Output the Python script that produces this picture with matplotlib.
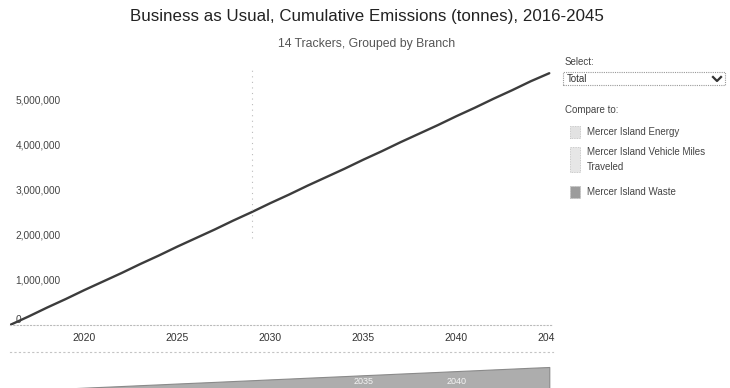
import matplotlib
matplotlib.use('Agg')
import matplotlib.pyplot as plt
import numpy as np
from matplotlib.patches import Rectangle
from matplotlib.lines import Line2D

plt.rcParams['font.family'] = ['Liberation Sans', 'DejaVu Sans']

# Daten
years = list(range(2016, 2046))
cumulative = [0, 0.19e6, 0.39e6, 0.58e6, 0.78e6, 0.97e6, 1.16e6, 1.36e6, 1.55e6, 1.75e6,
              1.94e6, 2.13e6, 2.33e6, 2.52e6, 2.72e6, 2.91e6, 3.11e6, 3.30e6, 3.49e6, 3.69e6,
              3.88e6, 4.08e6, 4.27e6, 4.46e6, 4.66e6, 4.85e6, 5.05e6, 5.24e6, 5.44e6, 5.62e6]
x_ticks = [2020, 2025, 2030, 2035, 2040, 2045]
y_ticks = [0, 1e6, 2e6, 3e6, 4e6, 5e6]
brush_labels = [2035, 2040]
hover_year = 2029
title = 'Business as Usual, Cumulative Emissions (tonnes), 2016-2045'
subtitle = '14 Trackers, Grouped by Branch'
select_value = 'Total'
compare_items = ['Mercer Island Energy', 'Mercer Island Vehicle Miles\nTraveled', 'Mercer Island Waste']

W, H = 730, 388


def fx(px):
    return px / W


def fy(py):
    return 1 - py / H


fig = plt.figure(figsize=(W / 100, H / 100), dpi=100)

# Hauptdiagramm
ax = fig.add_axes([fx(10), fy(325), (553 - 10) / W, (325 - 60) / H])
ax.plot(years, cumulative, color='#3c3c3c', lw=1.7, solid_capstyle='round')
ax.axvline(hover_year, ymin=0.33, ymax=0.975, color='#bbbbbb', lw=0.8, ls=(0, (1, 4)))
ax.set_xlim(2016, 2045.2)
ax.set_ylim(0, 5.915e6)
for s in ['top', 'left', 'right']:
    ax.spines[s].set_visible(False)
ax.spines['bottom'].set_linestyle((0, (1, 2)))
ax.spines['bottom'].set_color('#bbbbbb')
ax.spines['bottom'].set_linewidth(0.8)
ax.set_xticks(x_ticks)
ax.set_yticks(y_ticks)
ax.set_yticklabels(['{:,.0f}'.format(v) for v in y_ticks])
ax.tick_params(axis='x', length=0, pad=6, labelsize=7.5, labelcolor='#333333')
ax.tick_params(axis='y', length=0, pad=-4, labelsize=7.3, labelcolor='#444444')
for lab in ax.get_yticklabels():
    lab.set_horizontalalignment('left')
    lab.set_verticalalignment('bottom' if lab.get_text() == '0' else 'center')
clip = Rectangle((0, 0), fx(555), 1, transform=fig.transFigure)
for lab in ax.get_xticklabels():
    lab.set_clip_path(clip)

# Uebersicht unten
ax2 = fig.add_axes([fx(10), fy(391), (553 - 10) / W, 39 / H])
ax2.fill_between(years, cumulative, color='#adadad', lw=0.8, edgecolor='#8a8a8a')
ax2.set_xlim(2016, 2045.2)
ax2.set_ylim(0, 9.13e6)
for s in ['bottom', 'left', 'right']:
    ax2.spines[s].set_visible(False)
ax2.spines['top'].set_linestyle((0, (1, 3)))
ax2.spines['top'].set_color('#c4c4c4')
ax2.spines['top'].set_linewidth(0.8)
ax2.set_xticks([])
ax2.set_yticks([])
for yr in brush_labels:
    ax2.text(yr, 0.25, str(yr), transform=ax2.get_xaxis_transform(), ha='center', va='center',
             fontsize=6.5, color='#f4f4f4')

# Titel
fig.text(fx(367), fy(17), title, ha='center', va='center', fontsize=12.2, color='#222222')
fig.text(fx(367), fy(44), subtitle, ha='center', va='center', fontsize=8.8, color='#555555')

# Rechte Leiste
fig.text(fx(565), fy(62), 'Select:', ha='left', va='center', fontsize=7, color='#444444')
fig.add_artist(Rectangle((fx(563), fy(85)), (725 - 563) / W, 13 / H, transform=fig.transFigure,
                         facecolor='white', edgecolor='#999999', lw=0.8, ls=(0, (1, 1))))
fig.text(fx(567), fy(79), select_value, ha='left', va='center', fontsize=7, color='#333333')
fig.add_artist(Line2D([fx(713), fx(717), fx(721)], [fy(77), fy(81), fy(77)],
                      transform=fig.transFigure, color='#333333', lw=1.6))
fig.text(fx(565), fy(110), 'Compare to:', ha='left', va='center', fontsize=7, color='#444444')

box_rows = [(126, 12, '#e2e2e2'), (147, 25, '#e6e6e6'), (186, 12, '#9c9c9c')]
label_y = [132, 159.5, 192]
for (top, h, col), name, ly in zip(box_rows, compare_items, label_y):
    fig.add_artist(Rectangle((fx(570), fy(top + h)), 10 / W, h / H, transform=fig.transFigure,
                             facecolor=col, edgecolor='#bdbdbd', lw=0.6, ls=(0, (1, 1))))
    fig.text(fx(587), fy(ly), name, ha='left', va='center', fontsize=7, color='#444444',
             linespacing=1.55)

fig.savefig('out.png', dpi=100)
